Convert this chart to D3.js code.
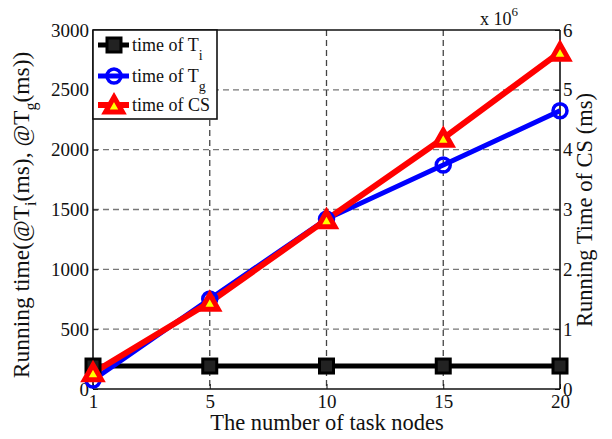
<!DOCTYPE html>
<html>
<head>
<meta charset="utf-8">
<script src="https://cdn.jsdelivr.net/npm/d3@7"></script>
<style>
  body { margin: 0; background: #fff; }
  text { font-family: "Liberation Serif", "DejaVu Serif", serif; fill: #111; }
</style>
</head>
<body>
<script>
//chart data
var nodes = ["1", "5", "10", "15", "20"];          //number of task nodes
var timeTi = [192, 192, 192, 192, 192];             //time of Ti (ms), left axis
var timeTg = [75, 752, 1420, 1872, 2325];           //time of Tg (ms), left axis
var timeCS = [2.7e5, 1.45e6, 2.83e6, 4.19e6, 5.63e6]; //time of CS (ms), right axis
var leftTicks = [0, 500, 1000, 1500, 2000, 2500, 3000];
var rightTicks = [0, 1e6, 2e6, 3e6, 4e6, 5e6, 6e6];
var legendNames = ["time of T", "time of T", "time of CS"];
var legendSubs = ["i", "g", ""];

//local scope so the frame names don't clash with window.top
(function(){

var width = 612, height = 439;
var pLeft = 93, pRight = 560, pTop = 30, pBottom = 389;

var svg = d3.select("body").append("svg")
	.attr("width", width)
	.attr("height", height);

//scales
var x = d3.scalePoint().domain(nodes).range([pLeft, pRight]);
var yL = d3.scaleLinear().domain([0, 3000]).range([pBottom, pTop]);
var yR = d3.scaleLinear().domain([0, 6e6]).range([pBottom, pTop]);

//grid lines
svg.append("g")
	.selectAll("line")
	.data(leftTicks.slice(1, -1))
	.enter().append("line")
	.attr("x1", pLeft).attr("x2", pRight)
	.attr("y1", function(d){ return yL(d); })
	.attr("y2", function(d){ return yL(d); })
	.attr("stroke", "#777").attr("stroke-width", 1.3)
	.attr("stroke-dasharray", "6,4");

svg.append("g")
	.selectAll("line")
	.data(nodes.slice(1, -1))
	.enter().append("line")
	.attr("x1", function(d){ return x(d); })
	.attr("x2", function(d){ return x(d); })
	.attr("y1", pTop).attr("y2", pBottom)
	.attr("stroke", "#444").attr("stroke-width", 1.3)
	.attr("stroke-dasharray", "6,4");

//axes
var axisL = svg.append("g")
	.attr("transform", "translate(" + pLeft + ",0)")
	.call(d3.axisLeft(yL).tickValues(leftTicks).tickSize(-5).tickPadding(4)
		.tickFormat(d3.format("d")));
var axisR = svg.append("g")
	.attr("transform", "translate(" + pRight + ",0)")
	.call(d3.axisRight(yR).tickValues(rightTicks).tickSize(-5).tickPadding(3)
		.tickFormat(function(d){ return d / 1e6; }));
var axisB = svg.append("g")
	.attr("transform", "translate(0," + pBottom + ")")
	.call(d3.axisBottom(x).tickSize(-5).tickPadding(6));

[axisL, axisR, axisB].forEach(function(a){
	a.select(".domain").attr("stroke", "#111").attr("stroke-width", 1.6);
	a.selectAll(".tick line").attr("stroke", "#111");
	a.selectAll(".tick text")
		.style("font-family", "'Liberation Serif', serif")
		.style("font-size", "19px")
		.attr("fill", "#111");
});
axisL.select(".domain").attr("d", "M0," + pBottom + "V" + pTop);
axisR.select(".domain").attr("d", "M0," + pBottom + "V" + pTop);
axisB.select(".domain").attr("d", "M" + pLeft + ",0H" + pRight);
axisR.selectAll(".tick text").attr("dy", "0.32em");

//top border
svg.append("line")
	.attr("x1", pLeft).attr("x2", pRight)
	.attr("y1", pTop).attr("y2", pTop)
	.attr("stroke", "#111").attr("stroke-width", 1.6);

//lines
var lineL = d3.line()
	.x(function(d, i){ return x(nodes[i]); })
	.y(function(d){ return yL(d); });
var lineR = d3.line()
	.x(function(d, i){ return x(nodes[i]); })
	.y(function(d){ return yR(d); });

svg.append("path").datum(timeTi).attr("d", lineL)
	.attr("fill", "none").attr("stroke", "#000").attr("stroke-width", 5);
svg.append("path").datum(timeTg).attr("d", lineL)
	.attr("fill", "none").attr("stroke", "#0000ff").attr("stroke-width", 5);
svg.append("path").datum(timeCS).attr("d", lineR)
	.attr("fill", "none").attr("stroke", "#ff0000").attr("stroke-width", 6);

//marker drawing helpers
function square(g, cx, cy){
	g.append("rect")
		.attr("x", cx - 7).attr("y", cy - 7)
		.attr("width", 14).attr("height", 14)
		.attr("fill", "#222").attr("stroke", "#000").attr("stroke-width", 3);
}
function circle(g, cx, cy){
	g.append("circle")
		.attr("cx", cx).attr("cy", cy).attr("r", 7)
		.attr("fill", "none").attr("stroke", "#0000ff").attr("stroke-width", 3.5);
}
function triangle(g, cx, cy){
	g.append("path")
		.attr("d", "M" + cx + "," + (cy - 8) + "L" + (cx + 8.5) + "," + (cy + 7) + "L" + (cx - 8.5) + "," + (cy + 7) + "Z")
		.attr("fill", "#ffff00").attr("stroke", "#ff0000").attr("stroke-width", 5)
		.attr("stroke-linejoin", "miter");
}

var marks = svg.append("g");
timeTi.forEach(function(d, i){ square(marks, x(nodes[i]), yL(d)); });
timeTg.forEach(function(d, i){ circle(marks, x(nodes[i]), yL(d)); });
timeCS.forEach(function(d, i){ triangle(marks, x(nodes[i]), yR(d)); });

//legend
var legend = svg.append("g");
legend.append("rect")
	.attr("x", pLeft).attr("y", pTop)
	.attr("width", 124).attr("height", 89)
	.attr("fill", "#fff").attr("stroke", "#111").attr("stroke-width", 1.6);

var legendY = [45, 76, 105];
var legendColors = ["#000", "#0000ff", "#ff0000"];
var legendDraw = [square, circle, triangle];
legendNames.forEach(function(name, i){
	legend.append("line")
		.attr("x1", 98).attr("x2", 129)
		.attr("y1", legendY[i]).attr("y2", legendY[i])
		.attr("stroke", legendColors[i]).attr("stroke-width", i == 2 ? 6 : 5);
	legendDraw[i](legend, 114, legendY[i]);
	var t = legend.append("text")
		.attr("x", 132).attr("y", legendY[i] + 6)
		.style("font-size", "18px")
		.text(name);
	if (legendSubs[i]){
		t.append("tspan")
			.attr("dy", 9)
			.style("font-size", "14px")
			.text(legendSubs[i]);
	}
});

//axis titles
svg.append("text")
	.attr("x", 327).attr("y", 430)
	.attr("text-anchor", "middle")
	.style("font-size", "22.5px")
	.text("The number of task nodes");

var yTitle = svg.append("text")
	.attr("transform", "translate(29,215) rotate(-90)")
	.attr("text-anchor", "middle")
	.style("font-size", "23.5px");
yTitle.append("tspan").text("Running time(@T");
yTitle.append("tspan").attr("dy", 7).style("font-size", "16px").text("i");
yTitle.append("tspan").attr("dy", -7).text("(ms), @T");
yTitle.append("tspan").attr("dy", 7).style("font-size", "16px").text("g");
yTitle.append("tspan").attr("dy", -7).text("(ms))");

svg.append("text")
	.attr("transform", "translate(592,210) rotate(-90)")
	.attr("text-anchor", "middle")
	.style("font-size", "22.5px")
	.text("Running Time of CS (ms)");

//exponent label on the right axis
var expo = svg.append("text")
	.attr("x", 480).attr("y", 25)
	.style("font-size", "18px");
expo.append("tspan").text("x 10");
expo.append("tspan").attr("dy", -9).style("font-size", "13px").text("6");

})();
</script>
</body>
</html>
